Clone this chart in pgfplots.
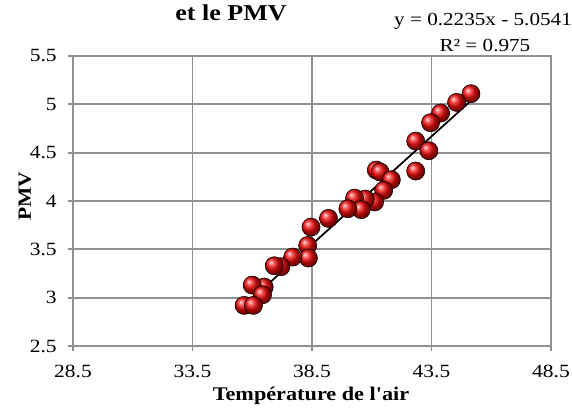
\documentclass[border=0pt]{standalone}
\usepackage{pgfplots}
\pgfplotsset{compat=1.18}
\usepackage{fontspec}
\setmainfont[FakeStretch=1.15, Ligatures=TeXOff]{Liberation Serif}
\definecolor{gridgray}{RGB}{145,145,145}
\definecolor{ballred}{RGB}{240,10,10}
\begin{document}
\begin{tikzpicture}
\useasboundingbox (-54.75pt,-47.25pt) rectangle (374.25pt,259.5pt);
\begin{axis}[
  at={(0,0)}, anchor=south west,
  scale only axis, width=358.5pt, height=217.5pt,
  xmin=28.5, xmax=48.5, ymin=2.5, ymax=5.5,
  xtick={28.5,33.5,38.5,43.5,48.5},
  ytick={2.5,3,3.5,4,4.5,5,5.5},
  xticklabels={28.5,33.5,38.5,43.5,48.5},
  yticklabels={2.5,3,3.5,4,4.5,5,5.5},
  xtick pos=left, ytick pos=left,
  tick align=outside, major tick length=3.75pt,
  xticklabel shift=7pt, yticklabel shift=5pt,
  grid=major,
  grid style={gridgray, line width=1.4pt},
  axis line style={gridgray, line width=1.4pt},
  every tick/.style={gridgray, line width=1.4pt},
  ticklabel style={font=\fontsize{14}{16}\selectfont, text=black},
  /pgf/number format/assume math mode=true,
  clip=false,
]
\addplot[only marks, mark=ball, ball color=ballred, mark size=6.8pt] coordinates {
(45.15,5.11) (44.55,5.02) (43.88,4.91) (43.46,4.81) (42.84,4.62) (43.39,4.52)
(42.84,4.31) (41.19,4.32) (41.35,4.30) (41.82,4.22) (41.50,4.11) (41.12,3.99)
(40.73,4.02) (40.28,4.03) (40.56,3.91) (40.00,3.92) (39.19,3.82) (38.46,3.73)
(38.32,3.54) (38.35,3.41) (37.69,3.42) (37.20,3.32) (36.92,3.33) (36.50,3.11)
(36.00,3.13) (36.43,3.03) (35.66,2.92) (36.05,2.92)
};
\addplot[black, line width=1.3pt] coordinates {(35.66,2.916) (45.15,5.037)};
\end{axis}
\node[font=\fontsize{17}{20}\selectfont\bfseries] at (118.5pt,250pt) {et le PMV};
\node[font=\fontsize{13.8}{16}\selectfont] at (307.5pt,243.5pt) {y = 0.2235x - 5.0541};
\node[font=\fontsize{13.8}{16}\selectfont] at (309pt,225.5pt) {R² = 0.975};
\node[font=\fontsize{14}{16}\selectfont\bfseries, rotate=90] at (-36pt,112.5pt) {PMV};
\node[font=\fontsize{14.5}{17}\selectfont\bfseries] at (178.5pt,-37.5pt) {Température de l'air};
\end{tikzpicture}
\end{document}
